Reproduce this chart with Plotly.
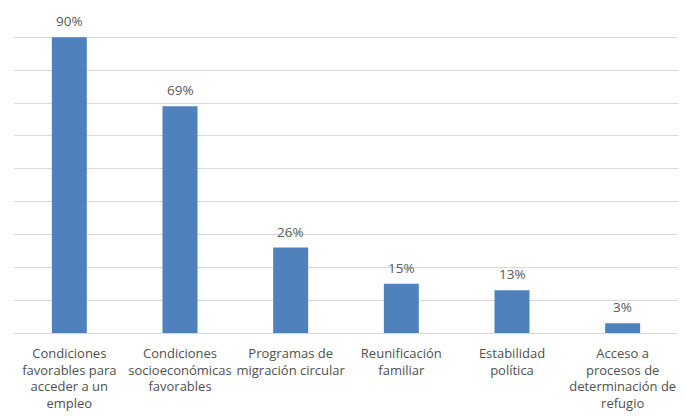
import plotly.graph_objects as go

categories = [
    "Condiciones<br>favorables para<br>acceder a un<br>empleo",
    "Condiciones<br>socioeconómicas<br>favorables",
    "Programas de<br>migración circular",
    "Reunificación<br>familiar",
    "Estabilidad<br>política",
    "Acceso a<br>procesos de<br>determinación de<br>refugio",
]
values = [0.90, 0.69, 0.26, 0.15, 0.13, 0.03]
labels = ["90%", "69%", "26%", "15%", "13%", "3%"]
grid_vals = [0.1, 0.2, 0.3, 0.4, 0.5, 0.6, 0.7, 0.8, 0.9]

FONT = "Open Sans"
GRAY = "#595959"

fig = go.Figure(
    go.Bar(
        x=categories,
        y=values,
        marker=dict(color="#4f81bd", line=dict(width=0)),
        hoverinfo="skip",
    )
)

for c, v, t in zip(categories, values, labels):
    fig.add_annotation(
        x=c, y=v, text=t, showarrow=False, yanchor="bottom", yshift=5,
        font=dict(family=FONT, size=13.5, color=GRAY),
    )

# page body has an 8px margin, so the figure is sized to fit the window
fig.update_layout(
    width=678, height=409,
    margin=dict(l=6, r=8, t=26, b=84, autoexpand=False),
    paper_bgcolor="white", plot_bgcolor="white",
    bargap=0.684,
    showlegend=False,
    font=dict(family=FONT, size=13, color=GRAY),
)
fig.update_xaxes(
    showgrid=False, showline=False, ticks="outside", ticklen=8,
    tickcolor="rgba(0,0,0,0)", tickangle=0, automargin=False,
    tickfont=dict(family=FONT, size=13, color="#505050"),
)
fig.update_yaxes(
    range=[0, 0.91], tickvals=grid_vals,
    showticklabels=False, automargin=False,
    showgrid=True, gridcolor="#d9d9d9", gridwidth=1,
    zeroline=True, zerolinecolor="#d9d9d9", zerolinewidth=1,
    showline=False,
)
fig.write_html("out.html")
